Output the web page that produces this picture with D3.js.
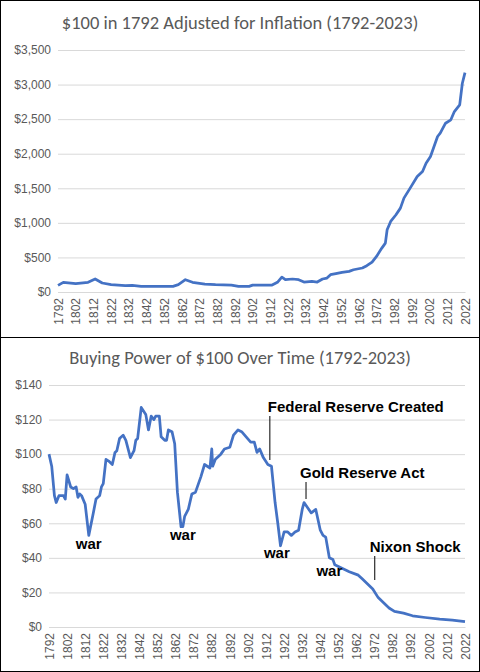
<!DOCTYPE html>
<html><head><meta charset="utf-8">
<script src="https://cdn.jsdelivr.net/npm/d3@7/dist/d3.min.js"></script>
<style>body{margin:0;background:#fff}svg{display:block;font-family:Calibri,Carlito,"Liberation Sans",Arial,sans-serif}</style>
</head><body><svg id="c" width="480" height="672"></svg>
<script>
const tickYears = d3.range(1792, 2023, 10);
const topYears = [1792,1795,1802,1809,1813,1817,1822,1830,1834,1839,1857,1860,1864,1868,1875,1881,1890,1894,1900,1902,1913,1916,1918.5,1920.5,1924.5,1928,1931,1935.5,1938.5,1941.5,1944,1946,1949,1952.5,1956.5,1959,1964,1966.5,1969.5,1972,1975,1977,1978,1980,1983,1985.5,1987.5,1991,1995,1998,2000,2002.5,2004.5,2006.5,2008,2011,2014,2016,2019,2020.5,2022];
const topValues = [96,140,120,140,188,130,106,91,96,82,82,106,178,140,115,106,100,82,82,100,100,140,215,178,188,178,144,154,144,188,202,250,265,284,298,322,347,380,433,515,635,707,900,1020,1117,1213,1358,1502,1670,1743,1863,1960,2104,2249,2297,2441,2490,2610,2707,3019,3173];
const botYears = [1792,1793.5,1795,1796,1797.5,1800,1801,1802,1804,1805.5,1807,1808,1809,1810,1812,1814,1816.5,1818,1820,1821,1822,1823.5,1825,1827,1828.5,1829.5,1831,1833,1834.5,1837,1839,1840,1841,1843,1845.5,1847,1848.5,1850,1851,1853,1854,1856,1857,1858,1860,1861.5,1863,1865,1866,1867,1869,1871,1873,1876,1878,1881,1882,1882.5,1884,1887,1889,1892,1894,1896.5,1898.5,1901,1903.5,1905.5,1907,1908.5,1910.5,1913,1915,1917,1918.5,1920,1922,1924,1926,1928,1930,1932,1933,1935,1937,1939.5,1942,1943.5,1945,1947,1949,1950,1954,1958,1963,1965,1968,1971,1974,1980,1983,1988,1993,2000,2008,2015,2022];
const botValues = [100,93,76,72,76,76,74,88,81,80,81,75,77,76,71,53,66,74,76,81,83,97,96,94,101,102,109,111,108,98,102,108,109,127,123,114,122,120,122,122,110,108,108,114,113,106,78,58,58,64,68,77,78,87,94,92,103,93,97,100,103,104,111,114,113,110,107,107,101,103,98,94,93,72,60,47,55,55,53,55,56,68,72,69,66,68,56,53,52,40,39,36,34,32,30,28,25,22,17,11,9,8,6.5,5.5,4.5,4,3.1];
const topTicks = d3.range(0, 3501, 500);
const botTicks = d3.range(0, 141, 20);
const notes = [
 {t:"war", x:1814, y:549},
 {t:"war", x:1866, y:540},
 {t:"war", x:1918, y:558},
 {t:"war", x:1947, y:576}
];
const events = [
 {t:"Federal Reserve Created", year:1913, y1:416, y2:460, ty:412, dx:-2},
 {t:"Gold Reserve Act", year:1933, y1:482, y2:499, ty:478, dx:-6},
 {t:"Nixon Shock", year:1971, y1:556, y2:580, ty:552, dx:-5}
];
const svg = d3.select("#c");
const gray="#595959", grid="#d9d9d9", blue="#4472c4";
function panel(y0, h, title, titleY, years, vals, ticks, yMax, x0, yBot, yTop, fmt){
  svg.append("rect").attr("x",0.5).attr("y",y0+0.5).attr("width",479).attr("height",h-1).attr("fill","#fff").attr("stroke","#000");
  svg.append("text").attr("x",240).attr("y",titleY).attr("text-anchor","middle").attr("fill",gray).attr("font-size",18.5).text(title);
  const x = d3.scaleLinear().domain([1792,2022]).range([x0,465]);
  const y = d3.scaleLinear().domain([0,yMax]).range([yBot,yTop]);
  const ga = svg.append("g").attr("transform",`translate(${x0},0)`).call(d3.axisLeft(y).tickValues(ticks).tickSize(-(465-x0)).tickFormat(fmt));
  ga.select(".domain").remove();
  ga.selectAll("line").attr("stroke",grid);
  ga.selectAll("text").attr("fill",gray).attr("font-size",12).attr("x",-7);
  const gx = svg.append("g").attr("transform",`translate(0,${yBot})`).call(d3.axisBottom(x).tickValues(tickYears).tickFormat(d=>d).tickSize(0));
  gx.select(".domain").attr("stroke",grid);
  gx.selectAll("text").attr("fill",gray).attr("font-size",12).attr("transform","rotate(-90)").attr("text-anchor","end").attr("x",-6).attr("y",0).attr("dy","0.35em");
  svg.append("path").datum(years.map((d,i)=>[d,vals[i]])).attr("fill","none").attr("stroke",blue).attr("stroke-width",2.75).attr("stroke-linejoin","round")
    .attr("d",d3.line().x(d=>x(d[0])).y(d=>y(d[1])));
  return x;
}
panel(0,338,"$100 in 1792 Adjusted for Inflation (1792-2023)",29,topYears,topValues,topTicks,3500,58,292,50,d=>"$"+d3.format(",")(d));
const xb = panel(337,335,"Buying Power of $100 Over Time (1792-2023)",364,botYears,botValues,botTicks,140,49,627,385,d=>"$"+d);
notes.forEach(n=>svg.append("text").attr("x",xb(n.x)).attr("y",n.y).attr("text-anchor","middle").attr("font-family","Arial,'Liberation Sans',sans-serif").attr("font-weight","bold").attr("font-size",15).text(n.t));
events.forEach(e=>{
  const xx = xb(e.year)+2;
  svg.append("line").attr("x1",xx).attr("x2",xx).attr("y1",e.y1).attr("y2",e.y2).attr("stroke","#000");
  svg.append("text").attr("x",xx+e.dx).attr("y",e.ty).attr("font-family","Arial,'Liberation Sans',sans-serif").attr("font-weight","bold").attr("font-size",15).text(e.t);
});
</script></body></html>
